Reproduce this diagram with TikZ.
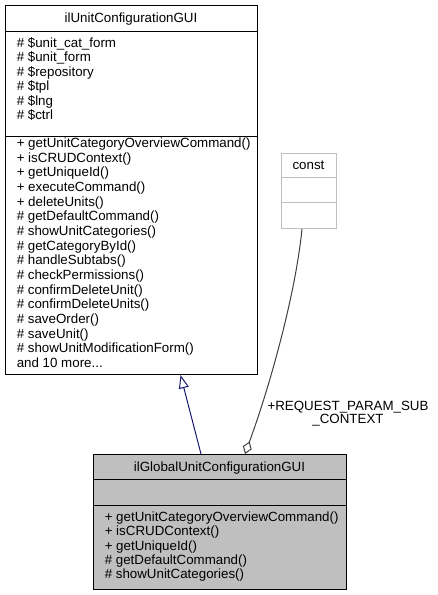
\documentclass[tikz,border=0pt]{standalone}
\usepackage{fontspec}
\setmainfont{Liberation Sans}
\usetikzlibrary{arrows.meta}
\definecolor{edgegray}{HTML}{404040}
\definecolor{boxgray}{HTML}{BFBFBF}
\definecolor{navyline}{HTML}{191970}
\begin{document}
\begin{tikzpicture}[x=0.75pt,y=-0.75pt,
  every node/.style={font=\fontsize{10pt}{9.75pt}\selectfont, inner sep=0pt},
  classbox/.style={draw=black, line width=0.75pt, inner sep=0pt, anchor=north west},
  member/.style={anchor=base west},
  ctitle/.style={anchor=base},
  inherit/.style={draw=navyline, line width=0.75pt, -{Triangle[open, length=10pt, width=7.5pt]}},
  aggreg/.style={draw=edgegray, line width=0.75pt, {Diamond[open, length=10pt, width=7pt]}-}
]
\useasboundingbox (0,0) rectangle (437,595);

% ---------- base class ----------
\node[classbox, fill=white, minimum width={252*0.75pt}, minimum height={369*0.75pt}] (base) at (5,5) {};
\draw[line width=0.75pt] (5,32) -- (257,32);
\draw[line width=0.75pt] (5,137) -- (257,137);
\node[ctitle] (basetitle) at (131,23) {ilUnitConfigurationGUI};
\foreach \t [count=\i from 0] in {{\# \$unit\_cat\_form}, {\# \$unit\_form}, {\# \$repository}, {\# \$tpl}, {\# \$lng}, {\# \$ctrl}}
  \node[member] (ba\i) at (16.5, 47.5+14.4*\i) {\t};
\foreach \t [count=\i from 0] in {{+ getUnitCategoryOverviewCommand()}, {+ isCRUDContext()}, {+ getUniqueId()}, {+ executeCommand()}, {+ deleteUnits()}, {\# getDefaultCommand()}, {\# showUnitCategories()}, {\# getCategoryById()}, {\# handleSubtabs()}, {\# checkPermissions()}, {\# confirmDeleteUnit()}, {\# confirmDeleteUnits()}, {\# saveOrder()}, {\# saveUnit()}, {\# showUnitModificationForm()}}
  \node[member] (bm\i) at (16.5, 147.5+14.67*\i) {\t};
\node[member] (bmore) at (16.5, 147.5+14.67*15) {and 10 more...};

% ---------- const ----------
\node[classbox, draw=boxgray, fill=white, minimum width={55*0.75pt}, minimum height={75*0.75pt}] (const) at (281,153) {};
\draw[boxgray, line width=0.75pt] (281,178) -- (336,178);
\draw[boxgray, line width=0.75pt] (281,203) -- (336,203);
\node[ctitle] (consttitle) at (308.5,170) {const};

% ---------- derived class ----------
\node[classbox, fill=boxgray, minimum width={253*0.75pt}, minimum height={135*0.75pt}] (derived) at (93,454) {};
\draw[line width=0.75pt] (93,479) -- (346,479);
\draw[line width=0.75pt] (93,505) -- (346,505);
\node[ctitle] (dertitle) at (219.5,471) {ilGlobalUnitConfigurationGUI};
\foreach \t [count=\i from 0] in {{+ getUnitCategoryOverviewCommand()}, {+ isCRUDContext()}, {+ getUniqueId()}, {\# getDefaultCommand()}, {\# showUnitCategories()}}
  \node[member] (dm\i) at (104.5, 521.5+14.25*\i) {\t};

% ---------- connectors ----------
\coordinate (inhFrom) at (derived.north west -| 201,0);
\coordinate (inhTo) at (base.south west -| 180.5,0);
\draw[inherit] (inhFrom) -- (inhTo);

\coordinate (aggFrom) at (derived.north west -| 245,0);
\coordinate (aggTo) at (const.south west -| 302,0);
\draw[aggreg] (aggFrom) .. controls (272,380) and (296,290) .. (aggTo);

\node[align=center] (agglabel) at (348,413.5) {+REQUEST\_PARAM\_SUB\\\_CONTEXT};
\end{tikzpicture}
\end{document}
